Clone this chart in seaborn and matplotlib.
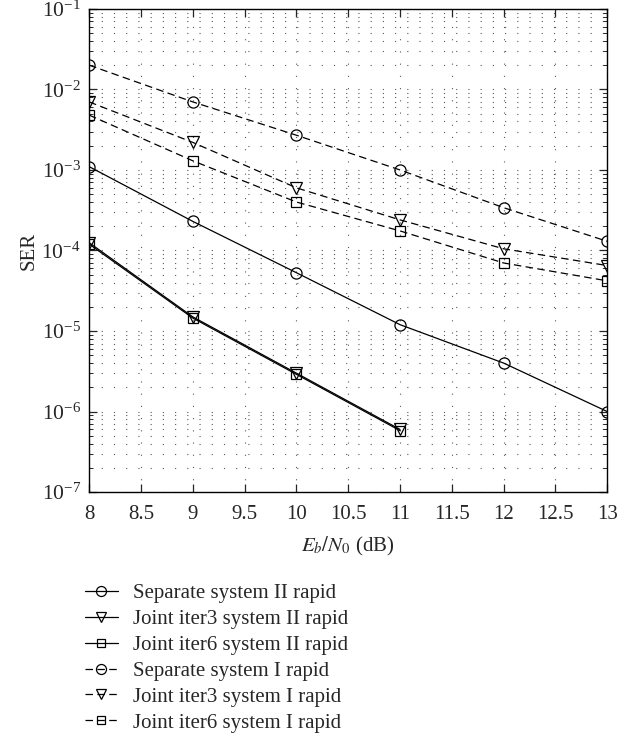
import numpy as np
import pandas as pd
import seaborn as sns
import matplotlib
matplotlib.use('Agg')
import matplotlib.pyplot as plt
from matplotlib.ticker import LogLocator, MultipleLocator, NullFormatter

sns.set_style('ticks')
plt.rcParams['font.family'] = ['Liberation Serif', 'DejaVu Serif']
plt.rcParams['mathtext.fontset'] = 'stix'

# Eb/N0 (dB)
snr = [8, 9, 10, 11, 12, 13]
snr_short = [8, 9, 10, 11]

sep_II = [1.1e-3, 2.3e-4, 5.3e-5, 1.2e-5, 4.0e-6, 1.0e-6]
it3_II = [1.25e-4, 1.5e-5, 3.0e-6, 6.0e-7]
it6_II = [1.2e-4, 1.45e-5, 2.9e-6, 5.8e-7]
sep_I = [2.0e-2, 7.0e-3, 2.7e-3, 1.0e-3, 3.4e-4, 1.3e-4]
it3_I = [7.0e-3, 2.2e-3, 6.0e-4, 2.4e-4, 1.05e-4, 6.5e-5]
it6_I = [4.8e-3, 1.3e-3, 4.0e-4, 1.75e-4, 7.0e-5, 4.2e-5]

labels = ['Separate system II rapid', 'Joint iter3 system II rapid',
          'Joint iter6 system II rapid', 'Separate system I rapid',
          'Joint iter3 system I rapid', 'Joint iter6 system I rapid']
series = [(snr, sep_II, 'o', '-'), (snr_short, it3_II, 'v', '-'),
          (snr_short, it6_II, 's', '-'), (snr, sep_I, 'o', '--'),
          (snr, it3_I, 'v', '--'), (snr, it6_I, 's', '--')]
msize = {'o': 8, 'v': 8, 's': 6.5}

fig = plt.figure(figsize=(6.19, 7.4), dpi=100)
ax = fig.add_axes([0.144, 0.335, 0.837, 0.653])

for (x, y, m, ls), lab in zip(series, labels):
    df = pd.DataFrame({'x': x, 'y': y})
    sns.lineplot(data=df, x='x', y='y', ax=ax, color='k', linewidth=0.9,
                 marker=m, markersize=msize[m],
                 markerfacecolor='none', markeredgecolor='k',
                 markeredgewidth=0.9, label=lab)
    ax.lines[-1].set_linestyle('-' if ls == '-' else (0, (6, 3.5)))

ax.set_yscale('log')
ax.set_xlim(8, 13)
ax.set_ylim(1e-7, 1e-1)
ax.xaxis.set_major_locator(MultipleLocator(0.5))
ax.xaxis.set_major_formatter(plt.FuncFormatter(lambda v, p: f'{v:g}'))
ax.yaxis.set_major_locator(LogLocator(base=10, numticks=10))
ax.yaxis.set_minor_locator(LogLocator(base=10, subs=np.arange(2, 10), numticks=20))
ax.yaxis.set_minor_formatter(NullFormatter())

grid_ls = (0, (1, 10))
ax.grid(True, which='major', axis='both', color='0.35', linestyle=grid_ls, linewidth=0.8)
ax.grid(True, which='minor', axis='y', color='0.35', linestyle=grid_ls, linewidth=0.8)

ax.tick_params(which='both', direction='in', top=True, right=True, labelsize=15)
ax.tick_params(axis='x', pad=9)
ax.tick_params(axis='y', labelsize=15.5, pad=6)
ax.tick_params(which='major', length=6, width=0.9)
ax.tick_params(which='minor', length=3, width=0.7)
for s in ax.spines.values():
    s.set_linewidth(1.0)
    s.set_color('k')

ax.set_xlabel(r'$E_b/N_0$ (dB)', fontsize=15, labelpad=8)
ax.set_ylabel('SER', fontsize=15, labelpad=2)

handles, labs = ax.get_legend_handles_labels()
ax.legend_.remove()
fig.legend(handles, labs, loc='upper left', bbox_to_anchor=(0.137, 0.211),
           frameon=False, fontsize=15, handlelength=1.6, handletextpad=0.7,
           labelspacing=0.3, borderaxespad=0, borderpad=0, markerscale=0.9)

fig.savefig('out.png', dpi=100)
